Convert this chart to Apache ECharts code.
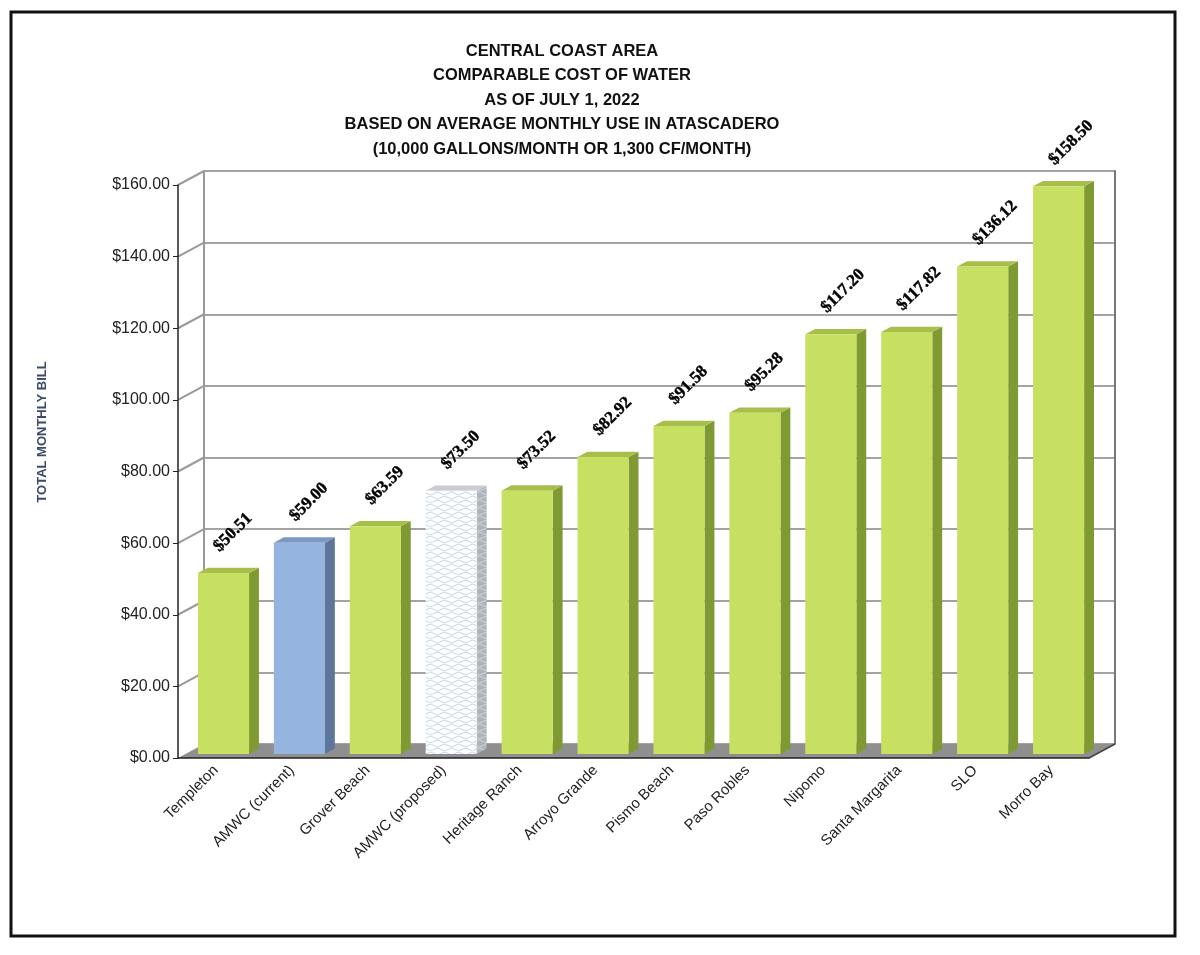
<!DOCTYPE html>
<html>
<head>
<meta charset="utf-8">
<title>Central Coast Area - Comparable Cost of Water</title>
<script src="https://cdn.jsdelivr.net/npm/echarts@6/dist/echarts.min.js"></script>
<style>
html, body { margin: 0; padding: 0; background: #fff; }
#draw_area { width: 1200px; height: 955px; }
</style>
</head>
<body>
<div id="draw_area"></div>
<script>
"use strict";

//各地区名称
var cities = ['Templeton', 'AMWC (current)', 'Grover Beach', 'AMWC (proposed)', 'Heritage Ranch',
    'Arroyo Grande', 'Pismo Beach', 'Paso Robles', 'Nipomo', 'Santa Margarita', 'SLO', 'Morro Bay'];

//每月水费（美元）
var monthlyBill = [50.51, 59.00, 63.59, 73.50, 73.52, 82.92, 91.58, 95.28, 117.20, 117.82, 136.12, 158.50];

//柱子的样式类别
var barKind = ['green', 'blue', 'green', 'hatch', 'green', 'green', 'green', 'green', 'green', 'green', 'green', 'green'];

//纵轴刻度
var yTicks = [0, 20, 40, 60, 80, 100, 120, 140, 160];

var titleLines = [
    'CENTRAL COAST AREA',
    'COMPARABLE COST OF WATER',
    'AS OF JULY 1, 2022',
    'BASED ON AVERAGE MONTHLY USE IN ATASCADERO',
    '(10,000 GALLONS/MONTH OR 1,300 CF/MONTH)'
];

//伪3D的纵深偏移
var DX = 26, DY = -14;
var D1 = 0.29, D2 = 0.67;
var BAR_RATIO = 0.673;

//波纹填充（AMWC proposed）
function makeHatch(bg, fg) {
    var c = document.createElement('canvas');
    c.width = 14; c.height = 8;
    var ctx = c.getContext('2d');
    ctx.fillStyle = bg;
    ctx.fillRect(0, 0, 14, 8);
    ctx.strokeStyle = fg;
    ctx.lineWidth = 0.8;
    ctx.beginPath();
    ctx.moveTo(0, 1.5); ctx.quadraticCurveTo(3.5, 4.5, 7, 1.5); ctx.quadraticCurveTo(10.5, -1.5, 14, 1.5);
    ctx.moveTo(0, 5.5); ctx.quadraticCurveTo(3.5, 2.5, 7, 5.5); ctx.quadraticCurveTo(10.5, 8.5, 14, 5.5);
    ctx.stroke();
    return c;
}

var colors = {
    green: { front: '#c8e061', side: '#7f9a33', top: '#a6bf4b' },
    blue: { front: '#95b4df', side: '#5e7699', top: '#7c97c1' },
    hatch: {
        front: { image: makeHatch('#ffffff', '#b4c9ea'), repeat: 'repeat' },
        side: { image: makeHatch('#afb3ba', '#d8dbe0'), repeat: 'repeat' },
        top: '#c9ccd2'
    }
};

function renderFloor(params, api) {
    var cs = params.coordSys;
    var y0 = api.coord([0, 0])[1];
    var x0 = cs.x, x1 = cs.x + cs.width;
    var children = [{
        type: 'polygon',
        shape: { points: [[x0, y0], [x1, y0], [x1 + DX, y0 + DY], [x0 + DX, y0 + DY]] },
        style: { fill: '#8f8f8f' }
    }, {
        type: 'line',
        shape: { x1: x1, y1: y0, x2: x1 + DX, y2: y0 + DY },
        style: { stroke: '#444', lineWidth: 1.5 }
    }];
    for (var i = 1; i < yTicks.length; i++) {
        var y = api.coord([0, yTicks[i]])[1];
        children.push({
            type: 'line',
            shape: { x1: x0, y1: y, x2: x0 + DX, y2: y + DY },
            style: { stroke: '#9a9a9a', lineWidth: 2 }
        });
    }
    return { type: 'group', children: children };
}

function renderBar(params, api) {
    var idx = api.value(0);
    var val = api.value(1);
    var top = api.coord([idx, val]);
    var base = api.coord([idx, 0]);
    var bw = api.size([1, 0])[0] * BAR_RATIO;
    var sx = DX * (D2 - D1), sy = DY * (D2 - D1);
    var x0 = top[0] - bw / 2 + DX * D1, x1 = x0 + bw;
    var yt = top[1] + DY * D1, yb = base[1] + DY * D1;
    var col = colors[barKind[idx]];
    return {
        type: 'group',
        children: [{
            type: 'polygon',
            shape: { points: [[x1, yt], [x1 + sx, yt + sy], [x1 + sx, yb + sy], [x1, yb]] },
            style: { fill: col.side }
        }, {
            type: 'polygon',
            shape: { points: [[x0, yt], [x1, yt], [x1 + sx, yt + sy], [x0 + sx, yt + sy]] },
            style: { fill: col.top }
        }, {
            type: 'rect',
            shape: { x: x0, y: yt, width: bw, height: yb - yt },
            style: { fill: col.front }
        }, {
            type: 'text',
            x: (x0 + x1) / 2 - 1,
            y: yt - 18,
            rotation: Math.PI / 4,
            style: {
                text: '$' + val.toFixed(2),
                align: 'left',
                verticalAlign: 'bottom',
                fontFamily: '"Liberation Serif", "Times New Roman", serif',
                fontWeight: 900,
                fontSize: 17,
                fill: '#000',
                stroke: '#000',
                lineWidth: 0.4
            }
        }]
    };
}

var option = {
    backgroundColor: '#ffffff',
    animation: false,
    title: {
        text: titleLines.join('\n'),
        left: 557,
        top: 34,
        textAlign: 'center',
        textStyle: {
            fontFamily: '"Liberation Sans", Arial, sans-serif',
            fontWeight: 'bold',
            fontSize: 16.5,
            lineHeight: 24.5,
            color: '#111'
        }
    },
    graphic: [{
        type: 'rect',
        shape: { x: 11, y: 12, width: 1164, height: 924 },
        style: { fill: null, stroke: '#111', lineWidth: 3 },
        z: 10
    }, {
        type: 'text',
        x: 42,
        y: 432,
        rotation: Math.PI / 2,
        style: {
            text: 'TOTAL MONTHLY BILL',
            align: 'center',
            verticalAlign: 'middle',
            font: 'bold 13px "Liberation Sans", Arial, sans-serif',
            fill: '#3b4a68'
        }
    }],
    grid: [
        { left: 178, top: 185, width: 911, height: 573 },
        { left: 178 + DX, top: 185 + DY, width: 911, height: 573 }
    ],
    xAxis: [{
        type: 'category',
        gridIndex: 0,
        data: cities,
        z: 5,
        axisLine: { lineStyle: { color: '#222', width: 1.5 } },
        axisTick: { length: 5, lineStyle: { color: '#222' } },
        axisLabel: {
            rotate: 45,
            margin: 10,
            fontSize: 15,
            fontFamily: '"Liberation Sans", Arial, sans-serif',
            color: '#222'
        }
    }, {
        type: 'category',
        gridIndex: 1,
        data: cities,
        show: false
    }],
    yAxis: [{
        type: 'value',
        gridIndex: 0,
        min: 0,
        max: 160,
        interval: 20,
        z: 5,
        axisLine: { show: true, lineStyle: { color: '#222', width: 1.5 } },
        axisTick: { show: true, length: 5, lineStyle: { color: '#222' } },
        splitLine: { show: false },
        axisLabel: {
            margin: 8,
            fontSize: 16,
            fontFamily: '"Liberation Sans", Arial, sans-serif',
            color: '#222',
            formatter: function (v) { return '$' + v.toFixed(2); }
        }
    }, {
        type: 'value',
        gridIndex: 1,
        min: 0,
        max: 160,
        interval: 20,
        axisLine: { show: true, lineStyle: { color: '#999', width: 2 } },
        axisTick: { show: false },
        axisLabel: { show: false },
        splitLine: { show: true, lineStyle: { color: '#a3a3a3', width: 2 } }
    }, {
        type: 'value',
        gridIndex: 1,
        position: 'right',
        min: 0,
        max: 160,
        interval: 20,
        axisLine: { show: true, lineStyle: { color: '#777', width: 2 } },
        axisTick: { show: false },
        axisLabel: { show: false },
        splitLine: { show: false }
    }],
    series: [{
        type: 'custom',
        name: 'floor',
        xAxisIndex: 0,
        yAxisIndex: 0,
        z: 1,
        renderItem: renderFloor,
        data: [[0, 0]]
    }, {
        type: 'custom',
        name: 'Total monthly bill',
        xAxisIndex: 0,
        yAxisIndex: 0,
        z: 2,
        renderItem: renderBar,
        data: monthlyBill.map(function (v, i) { return [i, v]; })
    }]
};

var chart_object = echarts.init(document.getElementById('draw_area'));
chart_object.setOption(option);
</script>
</body>
</html>
